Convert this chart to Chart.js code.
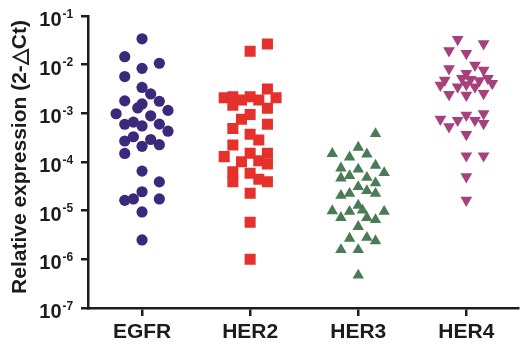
<!DOCTYPE html>
<html>
<head>
<meta charset="utf-8">
<script src="https://cdn.jsdelivr.net/npm/chart.js@4/dist/chart.umd.min.js"></script>
<style>
  html, body { margin: 0; padding: 0; background: #ffffff; }
  canvas { display: block; }
</style>
</head>
<body>
<canvas id="chart" width="526" height="345"></canvas>
<script>
// Receptor groups along the x axis
const categories = ['EGFR', 'HER2', 'HER3', 'HER4'];

// Decades labelled on the logarithmic y axis (10^exp)
const tickExponents = [-7, -6, -5, -4, -3, -2, -1];

// Relative expression (2^-ΔCt) per sample, with the horizontal scatter offset of each dot
const egfrValues = [3.4e-2, 1.46e-2, 1.07e-2, 8.4e-3, 5.7e-3, 3.4e-3, 2.5e-3, 1.8e-3, 1.77e-3, 1.56e-3,
  1.29e-3, 1.15e-3, 9.8e-4, 8.9e-4, 5.96e-4, 6.6e-4, 5.5e-4, 6.0e-4, 4.3e-4, 3.3e-4,
  2.7e-4, 2.9e-4, 2.1e-4, 2.27e-4, 1.5e-4, 6.5e-5, 3.9e-5, 2.45e-5, 1.63e-5, 1.74e-5,
  1.74e-5, 9.4e-6, 2.5e-6];
const egfrJitter = [0, -0.16, 0.16, 0, -0.16, 0, 0.08, -0.16, 0.16, 0,
  -0.04, 0.24, -0.24, 0.08, -0.16, -0.08, 0, 0.16, 0.24, -0.08,
  -0.16, 0.08, 0, 0.16, -0.16, 0, 0.16, 0, -0.16, -0.08,
  0.16, 0, 0];

const her2Values = [2.66e-2, 1.88e-2, 3.16e-3, 2.1e-3, 2.2e-3, 1.46e-3, 1.88e-3, 2.2e-3, 1.88e-3, 2.1e-3,
  1.27e-3, 9.5e-4, 7.55e-4, 5.96e-4, 4.9e-4, 3.7e-4, 2.83e-4, 2.23e-4, 1.29e-4, 1.51e-4,
  1.51e-4, 1.01e-4, 1.06e-4, 9.1e-5, 6.3e-5, 3.94e-5, 5.9e-5, 4.4e-5, 3.94e-5, 2.28e-5,
  5.8e-6, 1.0e-6];
const her2Jitter = [0.16, 0, 0.16, -0.24, -0.16, -0.16, -0.08, 0, 0.08, 0.24,
  0.16, 0, -0.08, 0.16, -0.16, 0, 0.08, -0.16, -0.24, 0,
  0.16, -0.08, 0.08, 0.16, -0.16, -0.16, 0, 0.08, 0.16, 0,
  0, 0];

const her3Values = [3.8e-4, 2.0e-4, 1.48e-4, 1.45e-4, 1.26e-4, 7.5e-5, 8.5e-5, 7.1e-5, 6.0e-5, 5.2e-5,
  4.65e-5, 4.8e-5, 3.7e-5, 3.1e-5, 2.05e-5, 2.25e-5, 2.56e-5, 2.25e-5, 9.9e-6, 1.28e-5,
  7.2e-6, 9.6e-6, 1.02e-5, 7.2e-6, 6.5e-6, 9.6e-6, 4.7e-6, 2.7e-6, 2.8e-6, 2.4e-6,
  1.57e-6, 1.57e-6, 4.7e-7];
const her3Jitter = [0.16, 0, -0.24, 0.08, -0.08, -0.16, 0.16, 0, 0.24, -0.08,
  -0.16, 0.08, 0.16, 0, -0.16, -0.08, 0.08, 0.16, -0.24, 0,
  -0.16, -0.08, 0.04, 0.08, 0.16, 0.24, 0, -0.08, 0.08, 0.16,
  -0.16, 0, 0];

const her4Values = [3.3e-2, 2.7e-2, 1.93e-2, 1.7e-2, 8.3e-3, 9.75e-3, 7.7e-3, 6.6e-3, 4.8e-3, 3.8e-3,
  5.2e-3, 5.0e-3, 4.7e-3, 5.2e-3, 4.1e-3, 3.5e-3, 3.5e-3, 2.44e-3, 2.36e-3, 2.56e-3,
  7.6e-4, 5.3e-4, 7.2e-4, 9.2e-4, 7.2e-4, 9.9e-4, 6.2e-4, 3.7e-4, 1.34e-4, 1.34e-4,
  5.0e-5, 1.64e-5, 3.9e-3];
const her4Jitter = [-0.08, 0.16, -0.16, 0, -0.16, 0.08, 0.16, 0, -0.2, -0.24,
  -0.04, 0.04, 0.12, 0.2, 0.24, -0.08, 0.08, -0.16, 0, 0.16,
  -0.24, -0.16, -0.08, 0, 0.08, 0.16, 0.16, 0, 0, 0.16,
  0, 0, 0];

const yTitle = 'Relative expression (2-\u25B3Ct)';
const axisColor = '#1c1c1c';
const fontFamily = '"Liberation Sans", Arial, Helvetica, sans-serif';

function points(values, jitter, groupIndex) {
  return values.map((v, i) => ({ x: groupIndex + 1 + jitter[i], y: v }));
}

function series(label, values, jitter, groupIndex, color, style, radius, rotation) {
  return {
    label,
    data: points(values, jitter, groupIndex),
    backgroundColor: color,
    borderColor: color,
    borderWidth: 0,
    pointStyle: style,
    pointRadius: radius,
    pointHoverRadius: radius,
    pointRotation: rotation || 0
  };
}

// Draws the "10^n" decade labels and the rotated y-axis title
const logAxisLabels = {
  id: 'logAxisLabels',
  afterDraw(chart) {
    const { ctx } = chart;
    const y = chart.scales.y;
    ctx.save();
    ctx.fillStyle = axisColor;
    tickExponents.forEach(exp => {
      const py = y.getPixelForValue(Math.pow(10, exp));
      ctx.font = 'bold 20px ' + fontFamily;
      ctx.textAlign = 'right';
      ctx.textBaseline = 'alphabetic';
      ctx.fillText('10', 61.5, py + 10);
      ctx.font = 'bold 12px ' + fontFamily;
      ctx.textAlign = 'left';
      ctx.fillText(String(exp), 62.5, py + 1.5);
    });
    ctx.translate(20, 157);
    ctx.rotate(-Math.PI / 2);
    ctx.font = 'bold 21px ' + fontFamily;
    ctx.textAlign = 'center';
    ctx.textBaseline = 'middle';
    ctx.fillText(yTitle, 0, 0);
    ctx.restore();
  }
};

new Chart(document.getElementById('chart'), {
  type: 'scatter',
  data: {
    datasets: [
      series('EGFR', egfrValues, egfrJitter, 0, '#3b2a7c', 'circle', 5.6),
      series('HER2', her2Values, her2Jitter, 1, '#e5302c', 'rect', 7.8),
      series('HER3', her3Values, her3Jitter, 2, '#4b7a56', 'triangle', 6.6),
      series('HER4', her4Values, her4Jitter, 3, '#a6417e', 'triangle', 6.8, 180)
    ]
  },
  options: {
    responsive: false,
    animation: false,
    devicePixelRatio: 1,
    layout: { padding: { top: 16, left: 0, right: 0, bottom: 0 } },
    plugins: {
      legend: { display: false },
      tooltip: { enabled: false },
      title: { display: false }
    },
    scales: {
      x: {
        type: 'linear',
        min: 0.5,
        max: 4.48,
        afterBuildTicks(scale) {
          scale.ticks = categories.map((c, i) => ({ value: i + 1 }));
        },
        afterFit(scale) { scale.height = 37; },
        ticks: {
          autoSkip: false,
          maxRotation: 0,
          padding: 4,
          color: axisColor,
          font: { family: fontFamily, size: 21, weight: 'bold' },
          callback: (v) => categories[Math.round(v) - 1]
        },
        grid: {
          display: true,
          drawOnChartArea: false,
          drawTicks: true,
          tickLength: 8,
          lineWidth: 2.5,
          color: axisColor
        },
        border: { display: true, width: 2.5, color: axisColor }
      },
      y: {
        type: 'logarithmic',
        min: 1e-7,
        max: 1e-1,
        afterBuildTicks(scale) {
          scale.ticks = tickExponents.map(e => ({ value: Math.pow(10, e) }));
        },
        afterFit(scale) { scale.width = 88; },
        ticks: { display: false },
        grid: {
          display: true,
          drawOnChartArea: false,
          drawTicks: true,
          tickLength: 7,
          lineWidth: 2.5,
          color: axisColor
        },
        border: { display: true, width: 2.5, color: axisColor }
      }
    }
  },
  plugins: [logAxisLabels]
});
</script>
</body>
</html>
